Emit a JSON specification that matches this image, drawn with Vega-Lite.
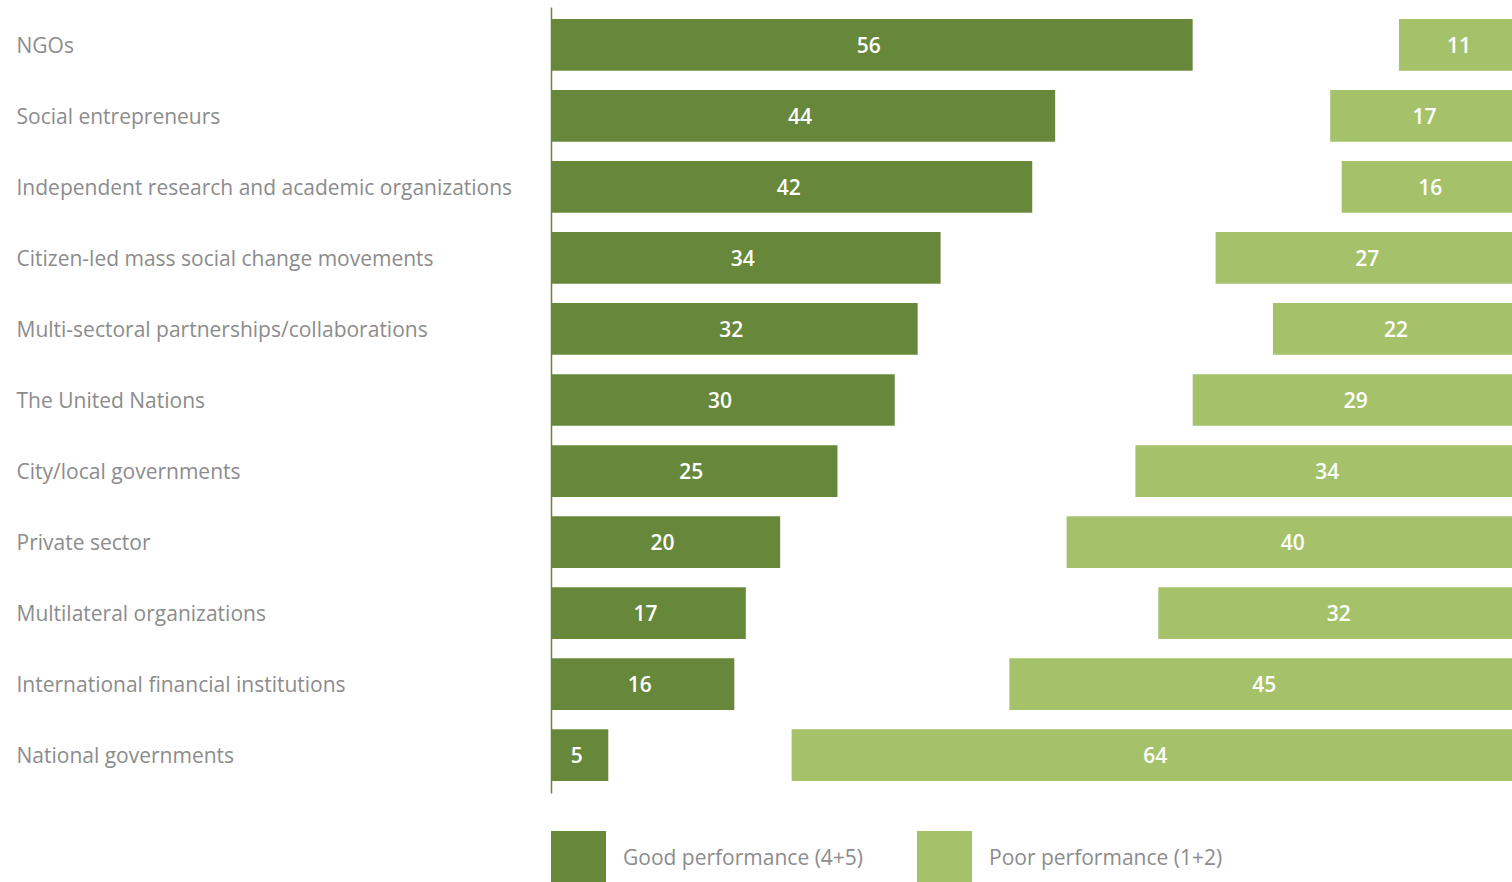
{
  "$schema": "https://vega.github.io/schema/vega-lite/v6.json",
  "autosize": {"type": "none"},
  "padding": {"left": 551, "top": 7, "right": 0, "bottom": 89},
  "width": 961,
  "height": 786,
  "config": {"view": {"stroke": null}, "font": "Open Sans"},
  "data": {"values": [
    {"category": "NGOs", "good": 56, "poor": 11},
    {"category": "Social entrepreneurs", "good": 44, "poor": 17},
    {"category": "Independent research and academic organizations", "good": 42, "poor": 16},
    {"category": "Citizen-led mass social change movements", "good": 34, "poor": 27},
    {"category": "Multi-sectoral partnerships/collaborations", "good": 32, "poor": 22},
    {"category": "The United Nations", "good": 30, "poor": 29},
    {"category": "City/local governments", "good": 25, "poor": 34},
    {"category": "Private sector", "good": 20, "poor": 40},
    {"category": "Multilateral organizations", "good": 17, "poor": 32},
    {"category": "International financial institutions", "good": 16, "poor": 45},
    {"category": "National governments", "good": 5, "poor": 64}
  ]},
  "encoding": {
    "y": {
      "field": "category", "type": "nominal", "sort": null,
      "scale": {"paddingInner": 0.272, "paddingOuter": 0.168},
      "axis": {
        "title": null, "ticks": false, "tickSize": 0, "labelAlign": "left", "labelPadding": 535,
        "labelBaseline": "middle", "labelFontSize": 21, "labelColor": "#8c8c8c", "labelLimit": 0,
        "labelOffset": 2,
        "labelFont": "Open Sans", "domainColor": "#67883a", "domainWidth": 1.5
      }
    }
  },
  "layer": [
    {
      "mark": {"type": "bar"},
      "encoding": {
        "x": {"field": "good", "type": "quantitative", "scale": {"domain": [0, 83.87]}, "axis": null},
        "color": {
          "datum": "Good performance (4+5)", "type": "nominal",
          "scale": {"domain": ["Good performance (4+5)", "Poor performance (1+2)"], "range": ["#67883a", "#a5c26b"]},
          "legend": {
            "title": null, "orient": "none", "legendX": 0, "legendY": 824, "direction": "horizontal",
            "symbolType": "square", "symbolSize": 3025, "symbolStrokeWidth": 0, "symbolOpacity": 1,
            "labelFontSize": 21, "labelColor": "#8c8c8c", "labelOffset": 17, "columnPadding": 53,
            "labelFont": "Open Sans", "labelLimit": 0
          }
        }
      }
    },
    {
      "mark": {"type": "bar", "clip": true},
      "encoding": {
        "x": {"field": "poor", "type": "quantitative", "scale": {"domain": [1.134, 85], "reverse": true}, "axis": null},
        "x2": {"datum": 0},
        "color": {"datum": "Poor performance (1+2)", "type": "nominal"}
      }
    },
    {
      "mark": {"type": "text", "align": "center", "baseline": "middle", "fill": "white", "fontSize": 21, "fontWeight": 600, "dx": -3, "dy": 2},
      "encoding": {
        "x": {"field": "good", "type": "quantitative", "scale": {"domain": [0, 167.73]}, "axis": null},
        "text": {"field": "good", "type": "quantitative"}
      }
    },
    {
      "mark": {"type": "text", "align": "center", "baseline": "middle", "fill": "white", "fontSize": 21, "fontWeight": 600, "dx": -3, "dy": 2},
      "encoding": {
        "x": {"field": "poor", "type": "quantitative", "scale": {"domain": [2.268, 170], "reverse": true}, "axis": null},
        "text": {"field": "poor", "type": "quantitative"}
      }
    }
  ],
  "resolve": {"scale": {"x": "independent"}}
}
